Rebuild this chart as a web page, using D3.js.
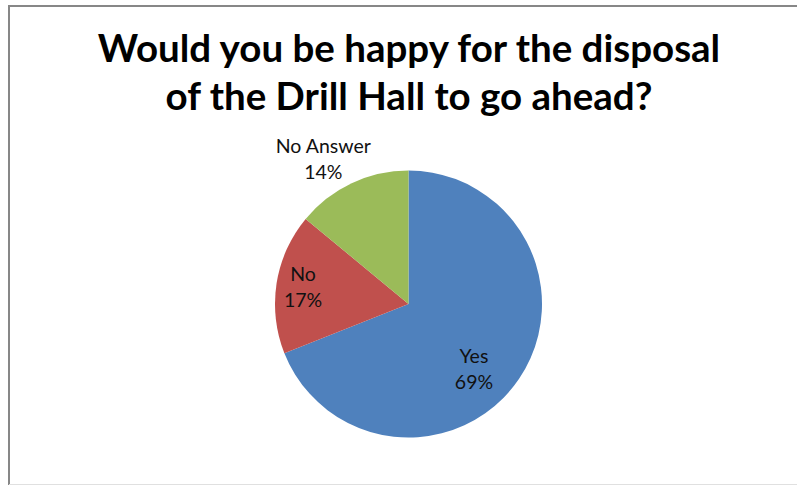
<!DOCTYPE html>
<html><head><meta charset="utf-8">
<script src="https://cdn.jsdelivr.net/npm/d3@7"></script>
<style>html,body{margin:0;padding:0;background:#fff;}svg{display:block;}</style>
</head><body>
<script>
const categories = ["Yes", "No", "No Answer"];
const values = [69, 17, 14];
const colors = ["#4F81BD", "#C0504D", "#9BBB59"];
const titleLines = ["Would you be happy for the disposal", "of the Drill Hall to go ahead?"];

const W = 797, H = 485;
const svg = d3.select("body").append("svg").attr("width", W).attr("height", H);
svg.append("rect").attr("x", 0).attr("y", 0).attr("width", W).attr("height", H).attr("fill", "#fff");
// frame
svg.append("path").attr("d", `M9,${H} V6 H${W}`).attr("fill", "none").attr("stroke", "#878787").attr("stroke-width", 2);
svg.append("line").attr("x1", 9).attr("x2", W).attr("y1", H - 0.5).attr("y2", H - 0.5).attr("stroke", "#e0e0e0");

const font = "Lato, 'Open Sans', sans-serif";
svg.selectAll("text.title").data(titleLines).join("text").attr("class", "title")
  .attr("x", 409).attr("y", (d, i) => 62 + i * 48)
  .attr("text-anchor", "middle").attr("font-family", font).attr("font-weight", 700)
  .attr("font-size", 38.5).attr("fill", "#000").text(d => d);

const cx = 408.5, cy = 304, r = 133.5;
const data = categories.map((c, i) => ({cat: c, value: values[i], color: colors[i]}));
const pie = d3.pie().value(d => d.value).sort(null);
const arcs = pie(data);
const arc = d3.arc().innerRadius(0).outerRadius(r);
const g = svg.append("g").attr("transform", `translate(${cx},${cy})`);
g.selectAll("path").data(arcs).join("path").attr("d", arc).attr("fill", d => d.data.color);

const total = d3.sum(values);
// label placement (best-fit style): radius factor + small nudge per slice
const labelPlacement = [
  {k: 0.62, ox: -3, oy: 12.5},
  {k: 0.80, ox: 0, oy: -6},
  {k: 1.20, ox: -17, oy: -6}
];
const lg = g.selectAll("g.lbl").data(arcs).join("g").attr("class", "lbl");
lg.each(function(d, i) {
  const p = labelPlacement[i];
  const la = d3.arc().innerRadius(r * p.k).outerRadius(r * p.k);
  let [x, y] = la.centroid(d);
  x += p.ox; y += p.oy;
  const t = d3.select(this).append("text").attr("text-anchor", "middle")
    .attr("font-family", font).attr("font-size", 19.5).attr("fill", "#111");
  t.append("tspan").attr("x", x).attr("y", y).text(d.data.cat);
  t.append("tspan").attr("x", x).attr("y", y + 26).text(Math.round(d.data.value / total * 100) + "%");
});
</script>
</body></html>
